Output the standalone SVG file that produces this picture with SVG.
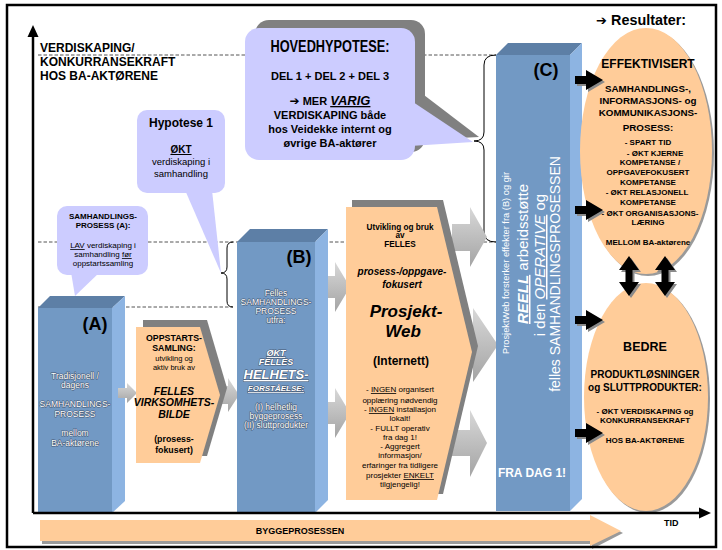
<svg xmlns="http://www.w3.org/2000/svg" width="722" height="550" viewBox="0 0 722 550">
<style>
text{font-family:"Liberation Sans",Arial,sans-serif;fill:#000}
.b{font-weight:bold}
.i{font-style:italic}
.u{text-decoration:underline}
.c{text-anchor:middle}
.w{fill:#fff;stroke:#44566f;stroke-width:1.1;paint-order:stroke;stroke-linejoin:round}
.wc{fill:#fff}
.dash{stroke:#555;stroke-width:1;stroke-dasharray:3.5 2;fill:none}
.front{fill:#7299C4}
.top{fill:#5D7FA6}
.side{fill:#8DB4E2}
.org{fill:#FFCC99}
.shd{fill:#808080}
.lav{fill:#CCCCFF}
.garr{fill:url(#gg)}
.brace{fill:none;stroke:#000;stroke-width:1}
.ax{stroke:#000;stroke-width:2.5;fill:none}
.arr{fill:#000}
.arrs{fill:#8a8a8a}
.sym{font-family:"DejaVu Sans",sans-serif}
</style>
<defs>
<linearGradient id="gg" x1="0" y1="0" x2="0" y2="1">
<stop offset="0" stop-color="#d8d8d8"/>
<stop offset="1" stop-color="#a4a4a4"/>
</linearGradient>
<path id="barr" d="M0,-4H11V-10L28,0L11,10V4H0Z"/>
<path id="darr" d="M0,0L10,14H3.5V26H10L0,40L-10,26H-3.5V14H-10Z"/>
</defs>

<rect x="0" y="0" width="722" height="550" fill="#fff"/>

<!-- value levels -->
<g id="levels">
<path class="dash" d="M38,55H496"/>
<path class="dash" d="M38,242H496"/>
<path class="dash" d="M38,307H233"/>
</g>

<!-- braces grouping the levels -->
<g id="braces">
<path class="brace" d="M233,242Q227,242 227,248V267Q227,273 221,273Q227,273 227,279V301Q227,307 233,307"/>
<path class="brace" d="M496,55Q484,55 484,65V132Q484,141 474,141Q484,141 484,150V232Q484,242 496,242"/>
</g>

<!-- y axis label -->
<g id="yaxis-label">
<text class="b" x="40" y="52" font-size="12">VERDISKAPING/</text>
<text class="b" x="40" y="66" font-size="12">KONKURRANSEKRAFT</text>
<text class="b" x="40" y="80" font-size="12">HOS BA-AKTØRENE</text>
</g>

<!-- main hypothesis callout -->
<g id="hovedhypotese">
<rect class="shd" x="255" y="20" width="170" height="132" rx="14"/>
<polygon class="shd" points="420,92 479,137 420,140"/>
<rect class="lav" x="245" y="28" width="170" height="132" rx="14"/>
<polygon class="lav" points="410,100 473,142 410,146"/>
<text class="b c" x="330" y="52" font-size="16" textLength="119" lengthAdjust="spacingAndGlyphs">HOVEDHYPOTESE:</text>
<text class="b c" x="330" y="80" font-size="11">DEL 1 + DEL 2 + DEL 3</text>
<text class="b c" x="330" y="105" font-size="11"><tspan class="sym" font-size="12">➔</tspan> MER <tspan class="i u" font-size="13">VARIG</tspan></text>
<text class="b c" x="330" y="119" font-size="11">VERDISKAPING både</text>
<text class="b c" x="330" y="133" font-size="11">hos Veidekke internt og</text>
<text class="b c" x="330" y="147" font-size="11">øvrige BA-aktører</text>
</g>

<!-- hypothesis 1 callout -->
<g id="hypotese1">
<rect class="lav" x="137" y="110" width="88" height="83" rx="10"/>
<polygon class="lav" points="185,190 212,190 221,273"/>
<text class="b c" x="181" y="127" font-size="12">Hypotese 1</text>
<text class="b c u" x="181" y="153" font-size="10">ØKT</text>
<text class="c" x="181" y="165" font-size="9.5">verdiskaping i</text>
<text class="c" x="181" y="177" font-size="9.5">samhandling</text>
</g>

<!-- process A callout -->
<g id="samhandling-a">
<rect class="lav" x="57" y="206" width="91" height="69" rx="10"/>
<polygon class="lav" points="71,272 100,272 75,296"/>
<text class="b c" x="103" y="219" font-size="8">SAMHANDLINGS-</text>
<text class="b c" x="103" y="228" font-size="8">PROSESS (A):</text>
<text class="c" x="103" y="248" font-size="8"><tspan class="u">LAV</tspan> verdiskaping i</text>
<text class="c" x="103" y="257" font-size="8">samhandling <tspan class="u">før</tspan></text>
<text class="c" x="103" y="266" font-size="8">oppstartssamling</text>
</g>

<!-- A: traditional process -->
<g id="box-a">
<polygon class="top" points="38,308 50,296 125,296 112,308"/>
<polygon class="side" points="112,308 125,296 125,501 112,513"/>
<rect class="front" x="38" y="308" width="74" height="205"/>
<text class="b c" x="95" y="330" font-size="18">(A)</text>
<text class="w c" x="75" y="379" font-size="8.5">Tradisjonell /</text>
<text class="w c" x="75" y="388" font-size="8.5">dagens</text>
<text class="w c" x="75" y="407" font-size="8.5">SAMHANDLINGS-</text>
<text class="w c" x="75" y="417" font-size="8.5">PROSESS</text>
<text class="w c" x="75" y="436" font-size="8.5">mellom</text>
<text class="w c" x="75" y="446" font-size="8.5">BA-aktørene</text>
</g>

<!-- gray flow arrows -->
<g id="connectors">
<path class="garr" d="M118,388H127V383L137,393L127,403V398H118Z"/>
<path class="garr" d="M214,386H228V378L239,395L228,412V404H214Z"/>
<path class="garr" d="M322,276H335V262L350,287L335,312V298H322Z"/>
<path class="garr" d="M322,402H335V388L350,413L335,438V424H322Z"/>
<path class="garr" d="M452,224H470V207L487,237L470,267V251H452Z"/>
<path class="garr" d="M460,329H473V308L498,345L473,382V361H460Z"/>
<path class="garr" d="M452,430H470V410L487,443L470,477V456H452Z"/>
</g>

<!-- kick-off meeting -->
<g id="oppstart">
<polygon class="shd" points="143,320 207,320 227,388 207,456 143,456"/>
<polygon class="org" points="136,327 200,327 220,395 200,463 136,463"/>
<text class="b c" x="174" y="341" font-size="8.8">OPPSTARTS-</text>
<text class="b c" x="174" y="351" font-size="8.8">SAMLING:</text>
<text class="c" x="174" y="361" font-size="7.5">utvikling og</text>
<text class="c" x="174" y="370" font-size="7.5">aktiv bruk av</text>
<text class="b i c" x="174" y="395" font-size="10.5">FELLES</text>
<text class="b i c" x="174" y="406" font-size="10.5">VIRKSOMHETS-</text>
<text class="b i c" x="174" y="418" font-size="10.5">BILDE</text>
<text class="b c" x="174" y="442" font-size="8.8">(prosess-</text>
<text class="b c" x="174" y="453" font-size="8.8">fokusert)</text>
</g>

<!-- B: common process -->
<g id="box-b">
<polygon class="top" points="237,242 250,229 328,229 315,242"/>
<polygon class="side" points="315,242 328,229 328,500 315,513"/>
<rect class="front" x="237" y="242" width="78" height="271"/>
<text class="b c" x="299" y="263" font-size="18">(B)</text>
<text class="w c" x="276" y="296" font-size="8.5">Felles</text>
<text class="w c" x="276" y="305" font-size="8.5">SAMHANDLINGS-</text>
<text class="w c" x="276" y="314" font-size="8.5">PROSESS</text>
<text class="w c" x="276" y="323" font-size="8.5">utfra:</text>
<text class="w c b i u" x="276" y="356" font-size="9">ØKT</text>
<text class="w c b i" x="276" y="365" font-size="9">FELLES</text>
<text class="w c b i u" x="276" y="379" font-size="13">HELHETS-</text>
<text class="w c b i u" x="276" y="391" font-size="8">FORSTÅELSE:</text>
<text class="w c" x="276" y="410" font-size="8.5">(I) helhetlig</text>
<text class="w c" x="276" y="419" font-size="8.5">byggeprosess</text>
<text class="w c" x="276" y="428" font-size="8.5">(II) sluttprodukter</text>
</g>

<!-- project web -->
<g id="prosjektweb">
<polygon class="shd" points="352,200 443,200 478,346 443,494 352,494"/>
<polygon class="org" points="346,207 437,207 472,352 437,500 346,500"/>
<text class="b c" x="400" y="230" font-size="8.2">Utvikling og bruk</text>
<text class="b c" x="400" y="238" font-size="8.2">av</text>
<text class="b c" x="400" y="247" font-size="8.2">FELLES</text>
<text class="b i c" x="402" y="275" font-size="10">prosess-/oppgave-</text>
<text class="b i c" x="402" y="288" font-size="10">fokusert</text>
<text class="b i c" x="406" y="317" font-size="17">Prosjekt-</text>
<text class="b i c" x="403" y="337" font-size="17">Web</text>
<text class="b c" x="401" y="365" font-size="12">(Internett)</text>
<text class="c" x="400" y="392" font-size="8">- <tspan class="u">INGEN</tspan> organisert</text>
<text class="c" x="400" y="403" font-size="8">opplæring nødvendig</text>
<text class="c" x="400" y="412" font-size="8">- <tspan class="u">INGEN</tspan> installasjon</text>
<text class="c" x="400" y="421" font-size="8">lokalt!</text>
<text class="c" x="400" y="431" font-size="8">- FULLT operativ</text>
<text class="c" x="400" y="440" font-size="8">fra dag 1!</text>
<text class="c" x="400" y="449" font-size="8">- Aggregert</text>
<text class="c" x="400" y="458" font-size="8">informasjon/</text>
<text class="c" x="400" y="468" font-size="8">erfaringer fra tidligere</text>
<text class="c" x="400" y="478" font-size="8">prosjekter <tspan class="u">ENKELT</tspan></text>
<text class="c" x="400" y="487" font-size="8">tilgjengelig!</text>
</g>

<!-- C: operative support -->
<g id="box-c">
<polygon class="top" points="496,55 508,43 582,43 570,55"/>
<polygon class="side" points="570,55 582,43 582,499 570,511"/>
<rect class="front" x="496" y="55" width="74" height="456"/>
<text class="b c" x="546" y="76" font-size="18">(C)</text>
<text class="wc c" transform="translate(509,263) rotate(-90)" font-size="9.3">ProsjektWeb forsterker effekter fra (B) og gir</text>
<text class="wc c" transform="translate(528,254) rotate(-90)" font-size="15"><tspan class="b i u">REELL</tspan> arbeidsstøtte</text>
<text class="wc c" transform="translate(545,265) rotate(-90)" font-size="15">i den <tspan class="i u">OPERATIVE</tspan> og</text>
<text class="wc c" transform="translate(560,274) rotate(-90)" font-size="14">felles SAMHANDLINGSPROSESSEN</text>
<text class="wc b c" x="532" y="477" font-size="12">FRA DAG 1!</text>
</g>

<g id="resultater">
<text class="b" x="596" y="25" font-size="15"><tspan class="sym" font-size="13">➔</tspan> <tspan textLength="75" lengthAdjust="spacingAndGlyphs">Resultater:</tspan></text>
</g>

<!-- result: efficiency -->
<g id="effektivisert">
<ellipse cx="648" cy="153" rx="66" ry="123" fill="#9a9a9a"/>
<ellipse class="org" cx="646" cy="151" rx="66" ry="123"/>
<text class="b c" x="648" y="68" font-size="12">EFFEKTIVISERT</text>
<text class="b c" x="648" y="92" font-size="9.8">SAMHANDLINGS-,</text>
<text class="b c" x="648" y="104" font-size="9.8">INFORMASJONS- og</text>
<text class="b c" x="648" y="116" font-size="9.8">KOMMUNIKASJONS-</text>
<text class="b c" x="648" y="131" font-size="9.8">PROSESS:</text>
<text class="b c" x="648" y="145" font-size="8">- SPART TID</text>
<text class="b c" x="655" y="156" font-size="8">- ØKT KJERNE</text>
<text class="b c" x="650" y="165" font-size="8">KOMPETANSE /</text>
<text class="b c" x="648" y="175" font-size="8">OPPGAVEFOKUSERT</text>
<text class="b c" x="648" y="185" font-size="8">KOMPETANSE</text>
<text class="b c" x="647" y="195" font-size="8">- ØKT RELASJONELL</text>
<text class="b c" x="648" y="205" font-size="8">KOMPETANSE</text>
<text class="b c" x="650" y="216" font-size="8">- ØKT ORGANISASJONS-</text>
<text class="b c" x="648" y="225" font-size="8">LÆRING</text>
<text class="b c" x="648" y="245" font-size="8">MELLOM BA-aktørene</text>
</g>

<!-- result: better products -->
<g id="bedre">
<ellipse cx="648" cy="399" rx="62" ry="114" fill="#9a9a9a"/>
<ellipse class="org" cx="646" cy="397" rx="62" ry="114"/>
<text class="b c" x="645" y="351" font-size="12.5">BEDRE</text>
<text class="b c" x="645" y="378" font-size="10">PRODUKTLØSNINGER</text>
<text class="b c" x="645" y="391" font-size="10">og SLUTTPRODUKTER:</text>
<text class="b c" x="645" y="414" font-size="8">- ØKT VERDISKAPING og</text>
<text class="b c" x="645" y="423" font-size="8">KONKURRANSEKRAFT</text>
<text class="b c" x="645" y="443" font-size="8">HOS BA-AKTØRENE</text>
</g>

<!-- result arrows -->
<g id="result-arrows">
<use href="#barr" class="arrs" x="577" y="82"/>
<use href="#barr" class="arr" x="575" y="80"/>
<use href="#barr" class="arrs" x="577" y="212"/>
<use href="#barr" class="arr" x="575" y="210"/>
<use href="#barr" class="arrs" x="577" y="322"/>
<use href="#barr" class="arr" x="575" y="320"/>
<use href="#barr" class="arrs" x="577" y="435"/>
<use href="#barr" class="arr" x="575" y="433"/>
</g>

<g id="mutual-arrows">
<use href="#darr" class="arrs" x="631" y="258"/>
<use href="#darr" class="arr" x="629" y="256"/>
<use href="#darr" class="arrs" x="667" y="258"/>
<use href="#darr" class="arr" x="665" y="256"/>
</g>

<!-- axes -->
<g id="axes">
<path class="ax" d="M33,513V34"/>
<polygon class="arr" points="33,25 27.5,37 38.5,37"/>
<path class="ax" d="M33,513H700"/>
<polygon class="arr" points="711,513 699,507.5 699,518.5"/>
<text class="b" x="664" y="526" font-size="9">TID</text>
</g>

<!-- building process -->
<g id="byggeprosessen">
<path d="M42,522H592V517L623,533L592,549V544H42Z" fill="#9a9a9a"/>
<path class="org" d="M40,520H590V515L621,531L590,546V541H40Z"/>
<text class="b c" x="300" y="534" font-size="9">BYGGEPROSESSEN</text>
</g>

<rect x="7" y="5" width="709" height="542" fill="none" stroke="#000" stroke-width="2.5"/>
</svg>
